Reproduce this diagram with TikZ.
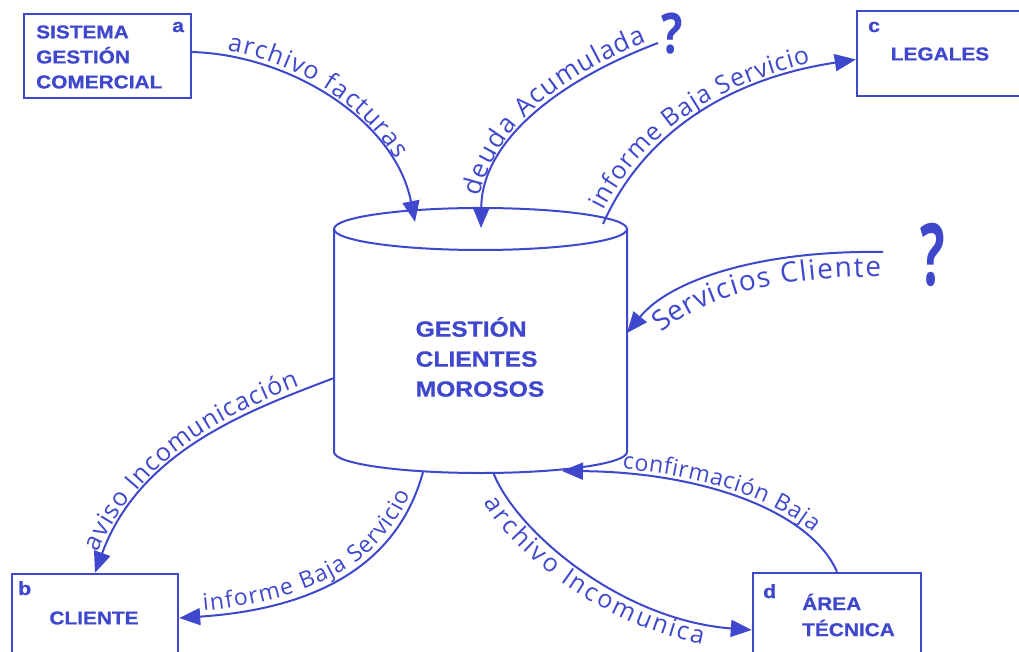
\documentclass[tikz,border=0pt]{standalone}
\usepackage{fontspec}
\setmainfont{Liberation Sans}
\newfontfamily\boxfont[FakeStretch=1.12,FakeBold=0.8]{Liberation Sans}
\newfontfamily\hand{Open Sans}
\usetikzlibrary{arrows.meta,decorations.text,calc}
\definecolor{ink}{RGB}{63,72,204}
\newcommand\handsz[1]{\hand\fontsize{#1}{#1}\selectfont}

\begin{document}
\begin{tikzpicture}[x=1pt,y=-1pt,
  box/.style={draw=ink, line width=2.4pt, inner sep=0pt},
  boxtext/.style={text=ink, font=\boxfont\bfseries\fontsize{18.6}{25}\selectfont, align=left, inner sep=0pt},
  cyltext/.style={text=ink, font=\boxfont\bfseries\fontsize{22}{30}\selectfont, align=left, inner sep=0pt},
  tag/.style={text=ink, font=\boxfont\bfseries\fontsize{19}{19}\selectfont, inner sep=0pt, anchor=base west},
  flow/.style={draw=ink, line width=2pt, -{Triangle[length=21pt,width=17pt]}},
  qmark/.style={text=ink, inner sep=0pt},
]
\useasboundingbox (0,0) rectangle (1019,652);

% external entities
\node[box, minimum width=167pt, minimum height=84pt] (a) at (107.5,56) {};
\node[box, minimum width=165pt, minimum height=85pt] (c) at (939.5,53.5) {};
\node[box, minimum width=166pt, minimum height=88pt] (b) at (95,618) {};
\node[box, minimum width=168pt, minimum height=84pt] (d) at (837,615) {};

\node[boxtext, anchor=west] (aText) at (36,57) {SISTEMA\\GESTIÓN\\COMERCIAL};
\node[boxtext] (cText) at (940,54) {LEGALES};
\node[boxtext] (bText) at (94,618) {CLIENTE};
\node[boxtext, anchor=west, font=\boxfont\bfseries\fontsize{18.6}{26}\selectfont] (dText) at (802,615) {ÁREA\\TÉCNICA};

\node[tag] (aTag) at (172,32) {a};
\node[tag] (cTag) at (868,32) {c};
\node[tag] (bTag) at (18,595) {b};
\node[tag] (dTag) at (763,598) {d};

% data store: cylinder
\draw[ink, line width=2pt] (480.5,229) ellipse [x radius=146.5, y radius=21];
\draw[ink, line width=2pt] (334,229) -- (334,452) arc[start angle=180, end angle=0, x radius=146.5, y radius=21] -- (627,229);
\node[cyltext] (cyl) at (480,357) {GESTIÓN\\CLIENTES\\MOROSOS};

% ports on the cylinder
\coordinate (pA) at (415,222);
\coordinate (pB) at (481,228);
\coordinate (pC) at (603,224);
\coordinate (pD) at (627,333);
\coordinate (pE) at (334,378);
\coordinate (pF) at (423,472);
\coordinate (pG) at (562,471);
\coordinate (pH) at (493,472);
% loose flow ends
\coordinate (qB) at (658,43);
\coordinate (qD) at (883,252);

% flows
\draw[flow] ([yshift=4pt]a.east) .. controls (290,55) and (395,120) .. (pA);
\draw[flow] (qB) .. controls (560,80) and (482,140) .. (pB);
\draw[flow] (pC) .. controls (640,140) and (720,80) .. ([yshift=-6pt]c.west);
\draw[flow] (qD) .. controls (760,250) and (670,280) .. (pD);
\draw[flow] (pE) .. controls (250,410) and (140,450) .. (b.north);
\draw[flow] (pF) .. controls (395,575) and (300,610) .. (b.east);
\draw[flow] (d.north) .. controls (810,510) and (700,472) .. (pG);
\draw[flow] (pH) .. controls (515,530) and (620,620) .. ([yshift=-15pt]d.west);

% labels written along the flows
\path[decorate, decoration={text along path, raise=5pt, text color=ink,
  text align={fit to path, left indent=34pt, right indent=64pt},
  text={|\handsz{25}|archivo facturas}}]
  ([yshift=4pt]a.east) .. controls (290,55) and (395,120) .. (pA);
\path[decorate, decoration={text along path, reverse path, raise=5pt, text color=ink,
  text align={fit to path, left indent=30pt, right indent=10pt},
  text={|\handsz{26}|deuda Acumulada}}]
  (qB) .. controls (560,80) and (482,140) .. (pB);
\path[decorate, decoration={text along path, raise=5pt, text color=ink,
  text align={fit to path, left indent=12pt, right indent=45pt},
  text={|\handsz{25}|informe Baja Servicio}}]
  (pC) .. controls (640,140) and (720,80) .. ([yshift=-6pt]c.west);
\path[decorate, decoration={text along path, reverse path, raise=-25pt, text color=ink,
  text align={fit to path, left indent=28pt, right indent=2pt},
  text={|\handsz{28}|Servicios Cliente}}]
  (qD) .. controls (760,250) and (670,280) .. (pD);
\path[decorate, decoration={text along path, reverse path, raise=5pt, text color=ink,
  text align={fit to path, left indent=20pt, right indent=35pt},
  text={|\handsz{25}|aviso Incomunicación}}]
  (pE) .. controls (250,410) and (140,450) .. (b.north);
\path[decorate, decoration={text along path, reverse path, raise=5pt, text color=ink,
  text align={fit to path, left indent=25pt, right indent=25pt},
  text={|\handsz{23}|informe Baja Servicio}}]
  (pF) .. controls (395,575) and (300,610) .. (b.east);
\path[decorate, decoration={text along path, reverse path, raise=5pt, text color=ink,
  text align={fit to path, left indent=60pt, right indent=45pt},
  text={|\handsz{23}|confirmación Baja}}]
  (d.north) .. controls (810,510) and (700,472) .. (pG);
\path[decorate, decoration={text along path, raise=-22pt, text color=ink,
  text align={fit to path, left indent=20pt, right indent=45pt},
  text={|\handsz{25}|archivo Incomunica}}]
  (pH) .. controls (515,530) and (620,620) .. ([yshift=-15pt]d.west);

\node[qmark, font=\handsz{56}\bfseries, xscale=0.8] (q1) at (672,34) {?};
\node[qmark, font=\handsz{86}\bfseries, xscale=0.6] (q2) at (933,255) {?};
\end{tikzpicture}
\end{document}
